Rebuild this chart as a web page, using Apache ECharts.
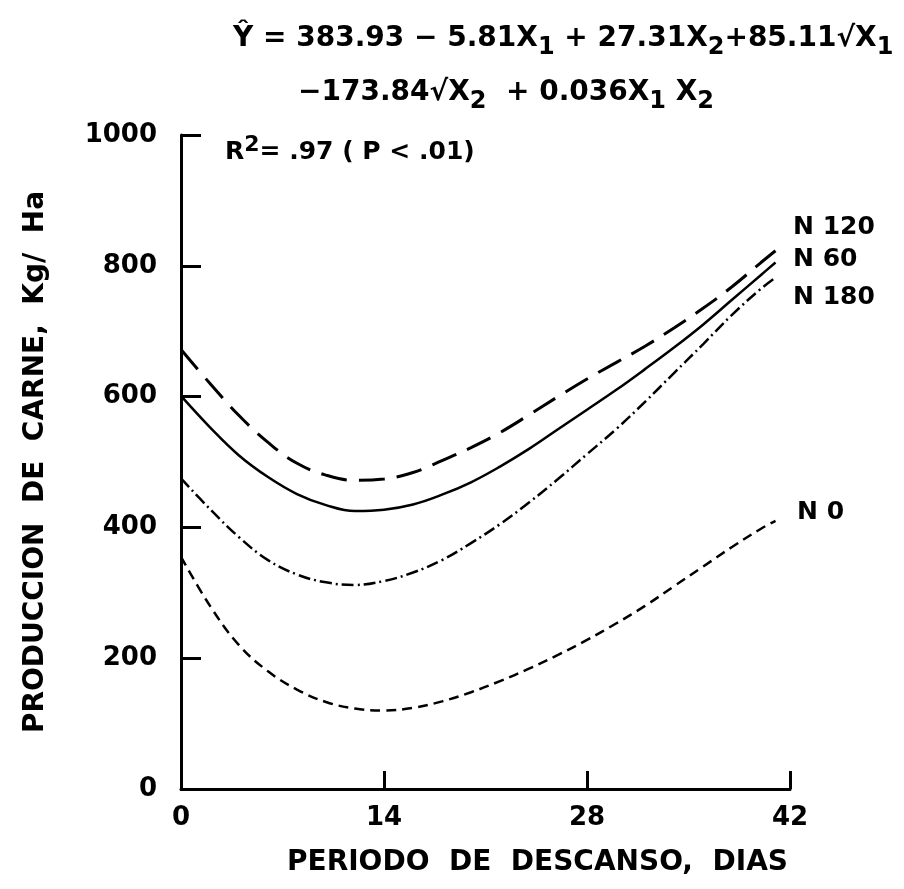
<!DOCTYPE html>
<html>
<head>
<meta charset="utf-8">
<script src="https://cdn.jsdelivr.net/npm/echarts@6/dist/echarts.min.js"></script>
<style>html,body{margin:0;padding:0;background:#fff}#c{width:904px;height:889px}</style>
</head>
<body>
<div id="c"></div>
<script>
// X: periodo de descanso (dias)
const days = [0,2,4,6,8,10,12,14,16,18,20,22,24,26,28,30,32,34,36,38,40,41];
const n120 = [672,620,571,530,498,480,472,474,484,502,522,545,572,600,627,652,677,705,735,768,805,823];
const n60  = [601,553,510,477,451,434,425,427,435,450,469,493,520,550,580,610,642,675,710,748,786,805];
const n180 = [475,428,385,350,328,316,312,318,331,350,376,405,438,474,512,550,592,636,680,725,765,782];
const n0   = [355,280,220,180,152,133,123,120,124,134,148,165,184,205,228,253,280,310,340,370,398,410];
const seriesNames = ['N 120','N 60','N 180','N 0'];
const xTicks = [0,14,28,42];
const yTicks = [0,200,400,600,800,1000];

const FONT = 'DejaVu Sans';
const pair = (ys) => days.map((d,i)=>[d, ys[i]]);

const chart = echarts.init(document.getElementById('c'), null, {renderer:'canvas'});
const lineBase = {type:'line', showSymbol:false, smooth:0.4, animation:false, silent:true};
const subStyle = {fontFamily:FONT, fontWeight:'bold', fontSize:24, fill:'#000', verticalAlign:'bottom', padding:[18,0,0,0]};
const mainStyle = {fontFamily:FONT, fontWeight:'bold', fontSize:28, fill:'#000'};
const labelFont = 'bold 25px "DejaVu Sans"';
chart.setOption({
  backgroundColor:'#fff',
  animation:false,
  grid:{left:181, right:114, top:135, bottom:100},
  xAxis:{
    type:'value', min:xTicks[0], max:xTicks[xTicks.length-1], interval:14,
    axisLine:{lineStyle:{color:'#000', width:3}},
    axisTick:{inside:true, length:18, lineStyle:{color:'#000', width:3}},
    axisLabel:{color:'#000', fontFamily:FONT, fontWeight:'bold', fontSize:26, margin:16},
    splitLine:{show:false},
    name:'PERIODO  DE  DESCANSO,  DIAS', nameLocation:'middle', nameGap:60,
    nameTextStyle:{color:'#000', fontFamily:FONT, fontWeight:'bold', fontSize:28, padding:[0,0,0,104]}
  },
  yAxis:{
    type:'value', min:yTicks[0], max:yTicks[yTicks.length-1], interval:200,
    axisLine:{lineStyle:{color:'#000', width:3}},
    axisTick:{inside:true, length:20, lineStyle:{color:'#000', width:3}},
    axisLabel:{color:'#000', fontFamily:FONT, fontWeight:'bold', fontSize:26, margin:24, formatter:(v)=>String(v)},
    splitLine:{show:false},
    name:'PRODUCCION  DE  CARNE,  Kg/  Ha', nameLocation:'middle', nameGap:131,
    nameTextStyle:{color:'#000', fontFamily:FONT, fontWeight:'bold', fontSize:28}
  },
  series:[
    Object.assign({}, lineBase, {name:seriesNames[0], data:pair(n120), lineStyle:{color:'#000', width:3, type:[26,12]}}),
    Object.assign({}, lineBase, {name:seriesNames[1], data:pair(n60), lineStyle:{color:'#000', width:2.5, type:'solid'}}),
    Object.assign({}, lineBase, {name:seriesNames[2], data:pair(n180), lineStyle:{color:'#000', width:2.5, type:[12,4,2,4]}}),
    Object.assign({}, lineBase, {name:seriesNames[3], data:pair(n0), lineStyle:{color:'#000', width:2.5, type:[10,6]}})
  ],
  graphic:[
    {type:'text', x:233, y:18, style:{text:'{t|Ŷ = 383.93 − 5.81X}{s|1}{t| + 27.31X}{s|2}{t|+85.11√X}{s|1}',
      fill:'#000', rich:{t:mainStyle, s:subStyle}}},
    {type:'text', x:298, y:72, style:{text:'{t|−173.84√X}{s|2}{t|  + 0.036X}{s|1}{t| X}{s|2}',
      fill:'#000', rich:{t:mainStyle, s:subStyle}}},
    {type:'text', x:225, y:134, style:{text:'{t|R}{p|2}{t|= .97 ( P < .01)}',
      fill:'#000', rich:{t:{fontFamily:FONT, fontWeight:'bold', fontSize:25, fill:'#000'}, p:{fontFamily:FONT, fontWeight:'bold', fontSize:22, fill:'#000', verticalAlign:'top', padding:[0,0,14,0]}}}},
    {type:'text', x:793, y:227, style:{text:seriesNames[0], fill:'#000', font:labelFont, verticalAlign:'middle'}},
    {type:'text', x:793, y:259, style:{text:seriesNames[1], fill:'#000', font:labelFont, verticalAlign:'middle'}},
    {type:'text', x:793, y:297, style:{text:seriesNames[2], fill:'#000', font:labelFont, verticalAlign:'middle'}},
    {type:'text', x:797, y:512, style:{text:seriesNames[3], fill:'#000', font:labelFont, verticalAlign:'middle'}}
  ]
});
</script>
</body>
</html>
